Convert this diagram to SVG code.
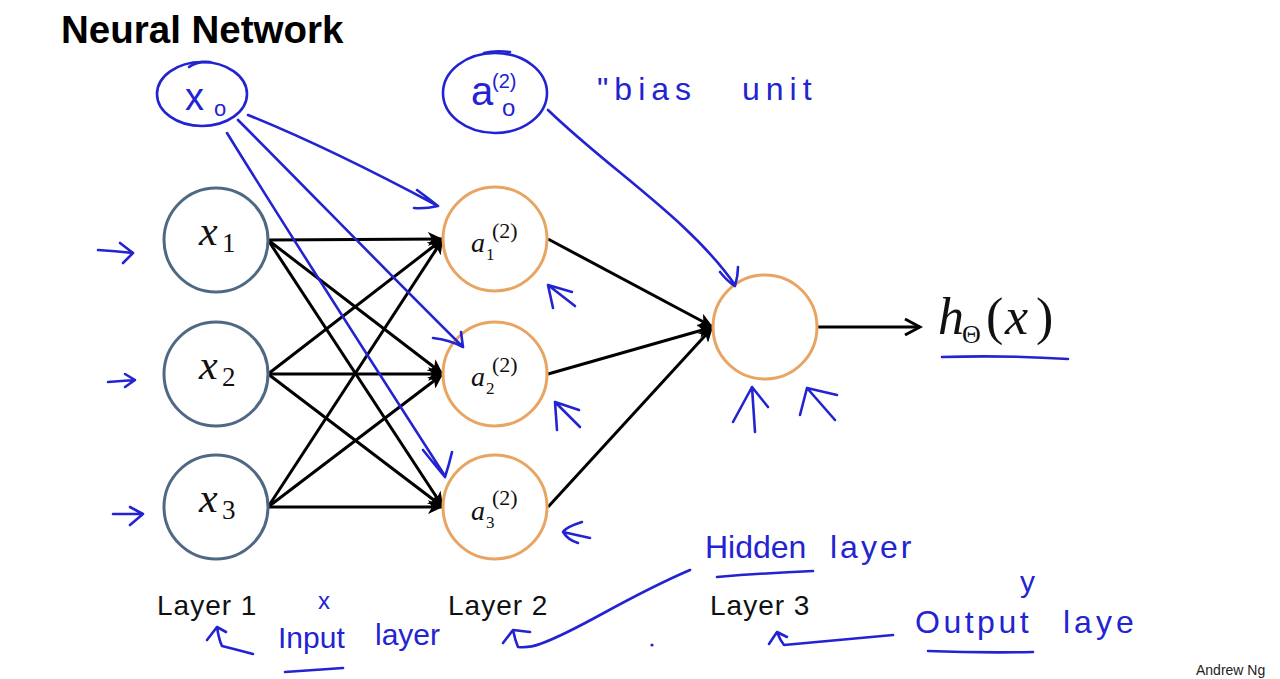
<svg xmlns="http://www.w3.org/2000/svg" width="1280" height="679" viewBox="0 0 1280 679">
<style>
.title{font-family:"Liberation Sans",Arial,sans-serif;font-weight:bold;font-size:38.5px;fill:#000}
.layer{font-family:"Liberation Sans",Arial,sans-serif;font-size:28px;fill:#111;letter-spacing:1px}
.credit{font-family:"Liberation Sans",Arial,sans-serif;font-size:14px;fill:#222}
.in{fill:#fff;stroke:#4f6884;stroke-width:3}
.hid{fill:#fff;stroke:#e8a562;stroke-width:3}
.mi{font-family:"Liberation Serif","Times New Roman",serif;font-style:italic;fill:#111}
.rm{font-family:"Liberation Serif","Times New Roman",serif;fill:#111}
.edge{stroke:#000;stroke-width:3;fill:none}
.ink{stroke:#2323d2;stroke-width:2.6;fill:none;stroke-linecap:round;stroke-linejoin:round}
.hw{font-family:"Liberation Sans",Arial,sans-serif;fill:#2323d2}
</style>
<defs>
<marker id="ah" markerUnits="userSpaceOnUse" markerWidth="16" markerHeight="14" refX="15" refY="7" orient="auto">
<path d="M0,0 L15,7 L0,14 L4,7 z" fill="#000"/>
</marker>
<marker id="open" markerUnits="userSpaceOnUse" markerWidth="20" markerHeight="20" refX="17" refY="10" orient="auto">
<path d="M2,2 L17,10 L2,18" fill="none" stroke="#000" stroke-width="3"/>
</marker>
</defs>
<rect width="1280" height="679" fill="#fff"/>
<text class="title" x="61" y="43">Neural Network</text>

<g id="connectors">
<line class="edge" x1="268" y1="240" x2="443" y2="239" marker-end="url(#ah)"/>
<line class="edge" x1="268" y1="240" x2="443" y2="374" marker-end="url(#ah)"/>
<line class="edge" x1="268" y1="240" x2="443" y2="507" marker-end="url(#ah)"/>
<line class="edge" x1="268" y1="374" x2="443" y2="239" marker-end="url(#ah)"/>
<line class="edge" x1="268" y1="374" x2="443" y2="374" marker-end="url(#ah)"/>
<line class="edge" x1="268" y1="374" x2="443" y2="507" marker-end="url(#ah)"/>
<line class="edge" x1="268" y1="507" x2="443" y2="239" marker-end="url(#ah)"/>
<line class="edge" x1="268" y1="507" x2="443" y2="374" marker-end="url(#ah)"/>
<line class="edge" x1="268" y1="507" x2="443" y2="507" marker-end="url(#ah)"/>
<line class="edge" x1="548" y1="239" x2="713" y2="327" marker-end="url(#ah)"/>
<line class="edge" x1="548" y1="374" x2="713" y2="327" marker-end="url(#ah)"/>
<line class="edge" x1="548" y1="507" x2="713" y2="327" marker-end="url(#ah)"/>
<line class="edge" x1="818" y1="327" x2="920" y2="327" marker-end="url(#open)"/>
</g>

<g id="x1"><circle class="in" cx="216" cy="240" r="52"/><text class="mi" x="199" y="245" font-size="42">x</text><text class="rm" x="222" y="252" font-size="27">1</text></g>
<g id="x2"><circle class="in" cx="216" cy="374" r="52"/><text class="mi" x="199" y="379" font-size="42">x</text><text class="rm" x="222" y="386" font-size="27">2</text></g>
<g id="x3"><circle class="in" cx="216" cy="507" r="52"/><text class="mi" x="199" y="512" font-size="42">x</text><text class="rm" x="222" y="519" font-size="27">3</text></g>

<g id="a1"><circle class="hid" cx="495" cy="239" r="52"/><text class="mi" x="471" y="252" font-size="28">a</text><text class="rm" x="486" y="260" font-size="17">1</text><text class="rm" x="492" y="238" font-size="22">(2)</text></g>
<g id="a2"><circle class="hid" cx="495" cy="374" r="52"/><text class="mi" x="471" y="386" font-size="28">a</text><text class="rm" x="486" y="394" font-size="17">2</text><text class="rm" x="492" y="372" font-size="22">(2)</text></g>
<g id="a3"><circle class="hid" cx="495" cy="507" r="52"/><text class="mi" x="471" y="520" font-size="28">a</text><text class="rm" x="486" y="528" font-size="17">3</text><text class="rm" x="492" y="505" font-size="22">(2)</text></g>

<g id="out"><circle class="hid" cx="765" cy="327" r="52"/></g>

<g id="h"><text class="mi" font-size="52"><tspan x="938" y="334">h</tspan><tspan class="rm" font-style="normal" x="962" y="343" font-size="26">Θ</tspan><tspan font-style="normal" x="986" y="334">(</tspan><tspan x="1005" y="334">x</tspan><tspan font-style="normal" x="1036" y="334">)</tspan></text></g>

<text class="layer" x="157" y="615">Layer 1</text>
<text class="layer" x="448" y="615">Layer 2</text>
<text class="layer" x="710" y="615">Layer 3</text>
<text class="credit" x="1196" y="675">Andrew Ng</text>

<g id="annotations">
<ellipse class="ink" cx="202" cy="94" rx="45" ry="32"/>
<path class="ink" d="M189,67 Q197,61 210,62"/>
<text class="hw" x="185" y="110" font-size="38">x</text>
<text class="hw" x="214" y="116" font-size="22">o</text>
<path class="ink" d="M248,115 C310,140 380,175 438,206 M417,190 Q428,198 438,206 Q425,209 414,208"/>
<path class="ink" d="M238,120 C300,182 400,285 463,347 M433,338 Q450,340 463,347 M461,332 Q462,340 463,347"/>
<path class="ink" d="M227,133 C290,235 380,375 445,476 M423,450 Q435,465 445,477 M452,452 Q449,465 445,477"/>

<ellipse class="ink" cx="495" cy="93" rx="52" ry="40"/>
<path class="ink" d="M484,53 Q495,50 510,52"/>
<text class="hw" x="471" y="105" font-size="40">a</text>
<text class="hw" x="492" y="88" font-size="20">(2)</text>
<text class="hw" x="502" y="116" font-size="24">o</text>
<text class="hw" font-size="32" y="100" letter-spacing="6"><tspan x="597">"bias</tspan><tspan x="742">unit</tspan></text>
<path class="ink" d="M548,110 C610,170 690,220 735,285 M720,272 Q728,282 735,286 Q738,276 738,267"/>

<path class="ink" d="M98,250 Q115,251 133,253 M120,243 L133,253 L123,263"/>
<path class="ink" d="M108,382 L135,380 M125,374 L135,380 L125,387"/>
<path class="ink" d="M113,514 L143,514 M130,507 L143,514 L130,525"/>

<path class="ink" d="M553,308 L548,285 L572,292 M548,285 L575,306"/>
<path class="ink" d="M557,430 L555,402 L579,410 M555,402 L580,427"/>
<path class="ink" d="M582,522 Q566,527 563,532 Q568,540 578,543 M563,532 L590,538"/>
<path class="ink" d="M755,432 L752,387 M733,422 L752,387 L768,407"/>
<path class="ink" d="M807,388 L835,420 M800,415 L807,388 L837,395"/>

<path class="ink" d="M942,357 Q1005,355 1068,359"/>

<text class="hw" font-size="32" y="558"><tspan x="705">Hidden</tspan><tspan x="830" letter-spacing="3">layer</tspan></text>
<path class="ink" d="M717,577 Q765,573 813,571"/>
<path class="ink" d="M503,643 L513,630 L530,632 M513,630 Q515,640 518,647 Q530,648 540,644 C580,630 620,600 690,570"/>

<text class="hw" x="318" y="609" font-size="24">x</text>
<text class="hw" font-size="30"><tspan x="278" y="648">Input</tspan><tspan x="375" y="645">layer</tspan></text>
<path class="ink" d="M285,672 Q314,670 343,668"/>
<path class="ink" d="M207,640 L217,627 L226,632 M217,627 Q219,640 222,646 Q238,650 253,654"/>

<text class="hw" x="1020" y="592" font-size="30">y</text>
<text class="hw" font-size="32" y="633"><tspan x="915" letter-spacing="3.5">Output</tspan><tspan x="1063" letter-spacing="4">laye</tspan></text>
<path class="ink" d="M928,651 Q980,653 1033,652"/>
<path class="ink" d="M769,644 L777,632 L787,637 M777,632 Q780,640 784,645 Q840,640 893,635"/>
<circle cx="652" cy="645" r="1.6" fill="#2323d2"/>
</g>
</svg>
